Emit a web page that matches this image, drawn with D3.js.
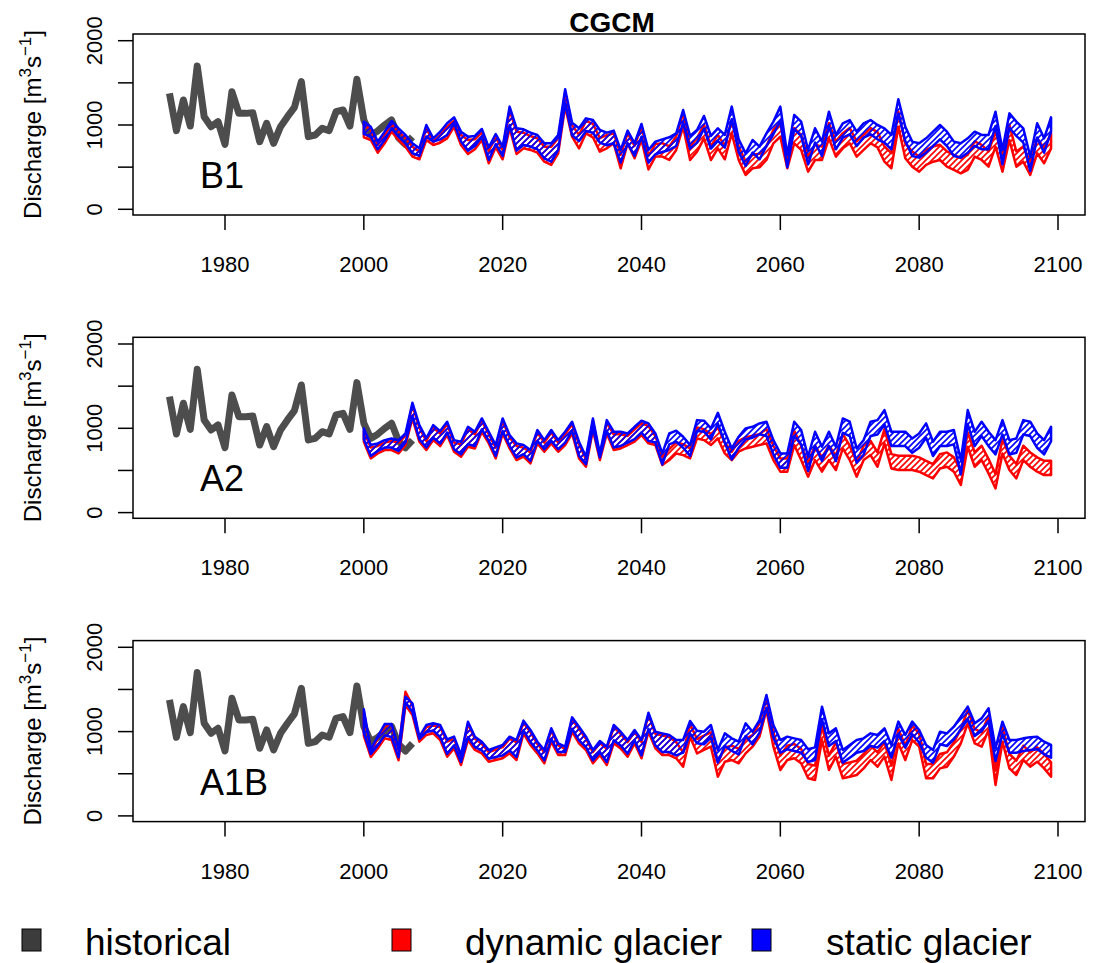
<!DOCTYPE html>
<html>
<head>
<meta charset="utf-8">
<script src="https://cdn.jsdelivr.net/npm/d3@7"></script>
<style>
  html, body { margin: 0; padding: 0; background: #fff; }
  svg text { font-family: "Liberation Sans", Arial, Helvetica, sans-serif; }
</style>
</head>
<body>
<div id="chart"></div>
<script>
// ---------------- data ----------------
const title = "CGCM";
const scenarios = ["B1", "A2", "A1B"];
const xTicks = [1980, 2000, 2020, 2040, 2060, 2080, 2100];
const yTicks = [0, 500, 1000, 1500, 2000];
const yTickLabels = ["0", "", "1000", "", "2000"];
const legendLabels = ["historical", "dynamic glacier", "static glacier"];

const histYears = d3.range(1972, 2008);
const historical = [1376, 933, 1297, 988, 1700, 1099, 980, 1040, 771, 1395,
  1138, 1138, 1146, 802, 1020, 783, 980, 1099, 1210, 1514,
  862, 881, 960, 933, 1158, 1178, 988, 1542, 1060, 880,
  930, 1000, 1060, 850, 770, 860];

const futYears = d3.range(2000, 2100);

// B1
const b1StaticHi = [1040,980,803,921,1048,961,882,783,724,1000,
842,920,1020,1091,921,862,870,953,735,893,
743,1218,961,949,909,882,783,783,882,1423,
1028,961,1079,1059,941,909,933,704,933,783,
1012,704,803,830,854,901,1178,870,941,1107,
870,961,882,1218,830,664,822,743,901,1040,
1218,644,1119,1040,704,961,803,1158,882,1020,
1059,921,1020,1059,1000,961,882,1305,980,803,
783,842,921,1000,921,803,783,842,921,882,
882,1158,704,1138,1040,961,625,1020,842,1091];
const b1StaticLo = [894,862,712,823,961,862,783,665,633,862,
803,830,882,1020,803,696,752,862,586,775,
633,1001,696,763,744,712,605,566,704,1258,
878,811,929,909,791,759,783,554,783,633,
862,554,653,680,704,751,1028,720,791,957,
720,811,732,1068,680,514,672,593,751,890,
1048,500,949,870,534,791,633,988,712,850,
889,751,850,889,830,791,712,1135,810,633,
613,672,751,830,751,633,613,672,751,712,
712,988,534,968,870,791,455,850,672,921];
const b1DynamicHi = [1000,940,763,881,1008,921,842,743,684,960,
802,880,980,1051,881,822,830,913,695,853,
703,1178,921,909,869,842,743,743,842,1383,
998,883,1049,1014,844,879,903,646,903,753,
982,634,773,785,745,864,1140,745,844,1002,
745,883,753,1061,745,567,646,658,745,943,
1042,584,963,884,627,765,743,1022,805,903,
963,805,884,963,915,745,666,1160,785,686,
627,706,745,765,686,647,607,647,805,765,
686,923,627,1002,686,745,565,844,726,903];
const b1DynamicLo = [854,822,672,783,921,822,743,625,593,822,
763,790,842,980,763,656,712,822,546,735,
593,961,656,723,704,672,565,526,664,1218,
862,723,901,854,684,723,783,486,783,605,
822,474,625,625,585,704,980,585,684,842,
585,723,593,901,585,407,486,498,585,783,
862,486,783,704,447,585,585,842,625,723,
783,625,704,783,735,565,486,980,605,506,
447,526,565,585,506,467,427,467,625,585,
506,743,447,822,506,565,407,664,546,723];

// A2
const a2StaticHi = [999,801,821,860,880,860,939,1303,1038,880,
1038,967,1078,860,841,1018,959,1117,959,801,
1117,920,821,801,742,979,860,979,860,959,
1078,841,663,1117,702,1097,959,959,939,1018,
1090,1058,939,702,939,971,900,801,1097,1090,
999,1184,959,761,900,999,1018,1058,1078,860,
702,702,1078,979,663,959,781,959,781,1117,
1078,761,860,1078,1097,1216,959,959,959,880,
939,1058,841,959,959,979,623,1216,959,1078,
959,860,1097,860,880,1097,1078,939,860,1018];
const a2StaticLo = [871,673,732,772,772,732,831,1147,871,772,
890,819,950,752,693,811,791,989,851,673,
969,791,653,693,614,851,752,851,752,831,
969,673,574,1009,653,969,772,791,831,871,
950,851,831,572,809,841,770,671,967,960,
869,1054,829,631,770,869,888,928,908,690,
532,532,908,809,493,789,611,789,611,947,
908,591,690,908,927,1046,789,789,789,710,
769,888,671,789,789,809,453,1046,789,908,
789,690,927,690,710,927,908,769,690,848];
const a2DynamicHi = [969,771,791,830,850,830,909,1273,1008,850,
1008,937,1048,830,811,988,929,1087,929,771,
1087,890,791,771,712,949,830,949,830,929,
1048,811,633,1087,672,1067,929,929,909,988,
1060,1028,909,662,753,832,812,761,1010,990,
931,1010,832,721,852,891,911,931,991,793,
642,642,971,793,596,793,655,793,675,931,
793,596,793,852,714,991,694,675,675,675,
655,615,576,694,714,655,497,951,714,793,
635,457,872,675,576,793,714,655,615,615];
const a2DynamicLo = [841,643,702,742,742,702,801,1117,841,742,
860,789,920,722,663,781,761,959,821,643,
939,761,623,663,584,821,722,821,722,801,
939,643,544,979,623,939,742,761,801,841,
920,821,801,564,623,702,682,643,880,860,
801,880,702,623,722,761,781,801,821,623,
485,485,801,623,426,623,485,623,505,761,
623,426,623,682,544,821,524,505,505,505,
485,445,406,524,544,485,327,781,544,623,
465,287,702,505,406,623,544,485,445,445];

// A1B
const a1bStaticHi = [1264,790,940,1090,1090,800,1414,1335,940,1078,
1098,1078,908,940,722,1118,940,880,782,813,
841,940,900,1130,1019,880,782,1039,861,821,
1169,1058,940,782,888,821,1078,999,900,1019,
900,1224,999,979,960,900,900,1126,1011,999,
1078,782,979,920,880,1098,999,1137,1434,1078,
900,940,920,900,790,813,1296,979,1039,782,
841,900,920,979,960,1039,841,1118,960,1118,
1019,841,782,999,979,1058,1177,1296,1098,1157,
1276,801,1118,900,900,920,932,940,880,841];
const a1bStaticLo = [985,735,835,955,935,695,1350,1232,915,995,
1014,935,738,836,639,935,817,777,678,698,
718,777,698,1014,876,777,659,915,757,757,
1034,896,817,659,757,639,896,836,738,896,
718,1034,836,757,757,718,750,976,861,849,
928,632,829,770,730,948,849,987,1284,928,
750,790,770,750,640,663,1146,829,889,632,
691,750,770,829,810,889,691,968,810,968,
869,691,632,849,829,908,1027,1146,948,1007,
1126,651,968,750,750,770,782,790,730,691];
const a1bDynamicHi = [1239,765,915,1065,1065,775,1473,1310,915,1053,
1073,1053,883,915,697,1093,915,855,757,788,
816,915,875,1105,994,855,757,1014,836,796,
1144,1033,915,757,863,796,1053,974,875,994,
875,1199,974,954,935,875,754,1086,912,952,
991,635,813,833,794,912,959,1097,1394,991,
715,833,853,794,616,596,1070,715,873,616,
635,655,734,833,754,873,596,1031,833,1070,
979,616,616,734,754,873,1031,1256,1031,991,
1189,537,1050,734,655,833,754,813,734,635];
const a1bDynamicLo = [950,700,800,920,900,660,1315,1197,880,960,
979,900,703,801,604,900,782,742,643,663,
683,742,663,979,841,742,624,880,722,722,
999,861,782,624,722,604,861,801,703,861,
683,999,801,722,722,683,584,940,742,782,
821,465,643,663,624,742,821,940,1256,821,
545,663,683,624,446,426,900,545,703,446,
465,485,564,663,584,703,426,861,663,900,
821,446,446,564,584,703,861,1098,861,821,
1019,367,880,564,485,663,584,643,564,465];

const bands = [
  { dynHi: b1DynamicHi, dynLo: b1DynamicLo, staHi: b1StaticHi, staLo: b1StaticLo },
  { dynHi: a2DynamicHi, dynLo: a2DynamicLo, staHi: a2StaticHi, staLo: a2StaticLo },
  { dynHi: a1bDynamicHi, dynLo: a1bDynamicLo, staHi: a1bStaticHi, staLo: a1bStaticLo }
];

// ---------------- layout ----------------
const W = 1093, H = 963;
const colHist = "#4d4d4d", colDyn = "#ff0000", colSta = "#0000ff";
const boxL = 133, boxR = 1085;
const panelStep = 303.3;
const boxTop0 = 34, boxBot0 = 215;

const svg = d3.select("#chart").append("svg")
  .attr("width", W).attr("height", H)
  .attr("viewBox", `0 0 ${W} ${H}`);

const defs = svg.append("defs");
function hatch(id, color) {
  const s = 6;
  const p = defs.append("pattern")
    .attr("id", id).attr("patternUnits", "userSpaceOnUse")
    .attr("width", s).attr("height", s);
  p.append("path")
    .attr("d", `M0,${s} L${s},0 M${-s/2},${s/2} L${s/2},${-s/2} M${s/2},${s*1.5} L${s*1.5},${s/2}`)
    .attr("stroke", color).attr("stroke-width", 1.6);
}
hatch("hatchDyn", colDyn);
hatch("hatchSta", colSta);

const x = d3.scaleLinear().domain([1980, 2100]).range([225, 1058]);

svg.append("text")
  .attr("x", 612).attr("y", 32)
  .attr("text-anchor", "middle")
  .attr("font-weight", "bold").attr("font-size", 28)
  .text(title);

scenarios.forEach((scen, i) => {
  const off = i * panelStep;
  const top = boxTop0 + off, bot = boxBot0 + off;
  const y = d3.scaleLinear().domain([0, 2000]).range([209.3 + off, 40.7 + off]);
  const g = svg.append("g");

  const clipId = "clip" + i;
  defs.append("clipPath").attr("id", clipId)
    .append("rect").attr("x", boxL).attr("y", top).attr("width", boxR - boxL).attr("height", bot - top);
  const plot = g.append("g").attr("clip-path", `url(#${clipId})`);

  // historical
  const hist = histYears.map((yr, k) => ({ yr, v: historical[k] }));
  plot.append("path")
    .datum(hist)
    .attr("d", d3.line().x(d => x(d.yr)).y(d => y(d.v)))
    .attr("fill", "none").attr("stroke", colHist)
    .attr("stroke-width", 7).attr("stroke-linejoin", "round").attr("stroke-linecap", "butt");

  const b = bands[i];
  const dyn = futYears.map((yr, k) => ({ yr, lo: b.dynLo[k], hi: b.dynHi[k] }));
  const sta = futYears.map((yr, k) => ({ yr, lo: b.staLo[k], hi: b.staHi[k] }));
  const area = d3.area().x(d => x(d.yr)).y0(d => y(d.lo)).y1(d => y(d.hi));

  [[dyn, colDyn, "hatchDyn"], [sta, colSta, "hatchSta"]].forEach(([data, col, pat]) => {
    plot.append("path").datum(data)
      .attr("d", area)
      .attr("fill", `url(#${pat})`)
      .attr("stroke", col).attr("stroke-width", 2.5)
      .attr("stroke-linejoin", "round");
  });

  // box
  g.append("rect")
    .attr("x", boxL).attr("y", top).attr("width", boxR - boxL).attr("height", bot - top)
    .attr("fill", "none").attr("stroke", "#000").attr("stroke-width", 1.5);

  // y axis
  yTicks.forEach((t, k) => {
    g.append("line")
      .attr("x1", boxL - 15).attr("x2", boxL)
      .attr("y1", y(t)).attr("y2", y(t))
      .attr("stroke", "#000").attr("stroke-width", 1.5);
    if (yTickLabels[k]) {
      g.append("text")
        .attr("transform", `translate(102,${y(t)}) rotate(-90)`)
        .attr("text-anchor", "middle")
        .attr("font-size", 22)
        .text(yTickLabels[k]);
    }
  });

  // x axis
  xTicks.forEach(t => {
    g.append("line")
      .attr("x1", x(t)).attr("x2", x(t))
      .attr("y1", bot).attr("y2", bot + 15)
      .attr("stroke", "#000").attr("stroke-width", 1.5);
    g.append("text")
      .attr("x", x(t)).attr("y", 272 + off)
      .attr("text-anchor", "middle")
      .attr("font-size", 22)
      .text(t);
  });

  // y axis title
  const yt = g.append("text")
    .attr("transform", `translate(41,${(top + bot) / 2}) rotate(-90)`)
    .attr("text-anchor", "middle")
    .attr("font-size", 24);
  yt.append("tspan").text("Discharge [m");
  yt.append("tspan").attr("dy", -10).attr("font-size", 17).text("3");
  yt.append("tspan").attr("dy", 10).text("s");
  yt.append("tspan").attr("dy", -10).attr("font-size", 17).text("\u22121");
  yt.append("tspan").attr("dy", 10).text("]");

  // scenario label
  g.append("text")
    .attr("x", 200).attr("y", 188 + off)
    .attr("font-size", 36)
    .text(scen);
});

// legend
const legendX = [22, 392, 752];
const legendTextX = [85, 465, 826];
const legendCols = ["#3c3c3c", colDyn, colSta];
legendLabels.forEach((lab, k) => {
  svg.append("rect")
    .attr("x", legendX[k]).attr("y", 929).attr("width", 19).attr("height", 22)
    .attr("fill", legendCols[k]).attr("stroke", "#000").attr("stroke-width", 1);
  svg.append("text")
    .attr("x", legendTextX[k]).attr("y", 955)
    .attr("font-size", 37)
    .text(lab);
});
</script>
</body>
</html>
